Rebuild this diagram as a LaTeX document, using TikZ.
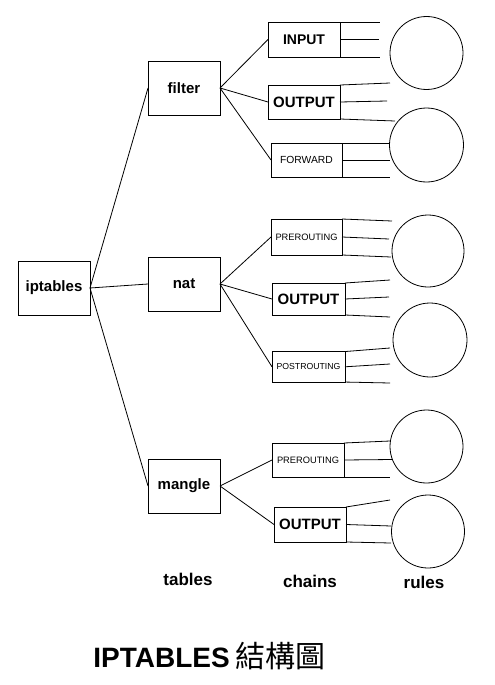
\documentclass[tikz,border=0pt]{standalone}
\usepackage{fontspec}
\setmainfont{Liberation Sans}
\newfontfamily\cjk{Noto Sans CJK TC}
\begin{document}
\begin{tikzpicture}[x=1pt,y=-1pt,line width=0.8pt,
  box/.style={draw,rectangle,inner sep=0pt,outer sep=0pt,font=\bfseries\fontsize{15}{15}\selectfont},
  tablebox/.style={box,minimum width=72pt,minimum height=54pt},
  chainbig/.style={box,font=\bfseries\fontsize{15}{15}\selectfont},
  chainsmall/.style={box,font=\fontsize{9.3}{9.3}\selectfont},
  rulecircle/.style={draw,circle,inner sep=0pt,outer sep=0pt,minimum size=73pt},
  caption/.style={anchor=base,font=\bfseries\fontsize{17}{17}\selectfont}]
\useasboundingbox (0,0) rectangle (495,685);

% tables
\node[tablebox] (iptables) at (54,288) {iptables};
\node[tablebox] (filter) at (184,88) {filter};
\node[tablebox] (nat) at (184,284) {nat};
\node[tablebox] (mangle) at (184,486) {mangle};

% chains
\node[chainbig,font=\bfseries\fontsize{14}{14}\selectfont,minimum width=72pt,minimum height=35pt] (input) at (304,39.5) {INPUT};
\node[chainbig,minimum width=72pt,minimum height=34pt] (out1) at (304,102) {OUTPUT};
\node[chainsmall,font=\fontsize{10.3}{10.3}\selectfont,minimum width=71pt,minimum height=34pt] (fwd) at (306.5,160) {FORWARD};
\node[chainsmall,minimum width=71pt,minimum height=36pt] (pre1) at (306.5,237) {PREROUTING};
\node[chainbig,minimum width=73pt,minimum height=32pt] (out2) at (308.5,299) {OUTPUT};
\node[chainsmall,font=\fontsize{8.7}{8.7}\selectfont,minimum width=73pt,minimum height=30.5pt] (post) at (308.5,366.8) {POSTROUTING};
\node[chainsmall,minimum width=72pt,minimum height=34pt] (pre2) at (308,460) {PREROUTING};
\node[chainbig,minimum width=72pt,minimum height=35pt] (out3) at (310,524.5) {OUTPUT};

% rules
\node[rulecircle] (r1) at (426.5,53) {};
\node[rulecircle,minimum size=74pt] (r2) at (426.5,145) {};
\node[rulecircle,minimum size=72pt] (r3) at (428,251) {};
\node[rulecircle,minimum size=74pt] (r4) at (430,340) {};
\node[rulecircle] (r5) at (426.5,446.5) {};
\node[rulecircle] (r6) at (428,531.5) {};

% connectors iptables -> tables
\draw (iptables.east) -- (filter.west);
\draw (iptables.east) -- (nat.west);
\draw (iptables.east) -- (mangle.west);

% tables -> chains
\draw (filter.east) -- (input.west);
\draw (filter.east) -- (out1.west);
\draw (filter.east) -- (fwd.west);
\draw (nat.east) -- (pre1.west);
\draw (nat.east) -- (out2.west);
\draw (nat.east) -- (post.west);
\draw (mangle.east) -- (pre2.west);
\draw (mangle.east) -- (out3.west);

% rule lines ends
\coordinate (a1) at (380,22);   \coordinate (a2) at (379,39.5); \coordinate (a3) at (380,57);
\coordinate (b1) at (390,83);   \coordinate (b2) at (387,101);  \coordinate (b3) at (395,121);
\coordinate (c1) at (390,143);  \coordinate (c2) at (390,160);  \coordinate (c3) at (390,177);
\coordinate (d1) at (392,221);  \coordinate (d2) at (389,239);  \coordinate (d3) at (391,257);
\coordinate (e1) at (390,280);  \coordinate (e2) at (389,297);  \coordinate (e3) at (390,317);
\coordinate (f1) at (390,348);  \coordinate (f2) at (390,364);  \coordinate (f3) at (390,383);
\coordinate (g1) at (390,441);  \coordinate (g2) at (392,459.5);\coordinate (g3) at (390,477);
\coordinate (h1) at (390,500);  \coordinate (h2) at (391,526);  \coordinate (h3) at (391,543);

\draw (input.north east) -- (a1);
\draw (input.east) -- (a2);
\draw (input.south east) -- (a3);
\draw (out1.north east) -- (b1);
\draw (out1.east) -- (b2);
\draw (out1.south east) -- (b3);
\draw (fwd.north east) -- (c1);
\draw (fwd.east) -- (c2);
\draw (fwd.south east) -- (c3);
\draw (pre1.north east) -- (d1);
\draw (pre1.east) -- (d2);
\draw (pre1.south east) -- (d3);
\draw (out2.north east) -- (e1);
\draw (out2.east) -- (e2);
\draw (out2.south east) -- (e3);
\draw (post.north east) -- (f1);
\draw (post.east) -- (f2);
\draw (post.south east) -- (f3);
\draw (pre2.north east) -- (g1);
\draw (pre2.east) -- (g2);
\draw (pre2.south east) -- (g3);
\draw (out3.north east) -- (h1);
\draw (out3.east) -- (h2);
\draw (out3.south east) -- (h3);

% captions
\node[caption] (ltables) at (188,585) {tables};
\node[caption] (lchains) at (310,587) {chains};
\node[caption] (lrules) at (424,588) {rules};

% title
\node[anchor=base west,inner sep=0pt,font=\bfseries\fontsize{28}{28}\selectfont] (title) at (93,667)
  {IPTABLES\hspace{6pt}{\cjk\mdseries\fontsize{30}{30}\selectfont 結構圖}};
\end{tikzpicture}
\end{document}
